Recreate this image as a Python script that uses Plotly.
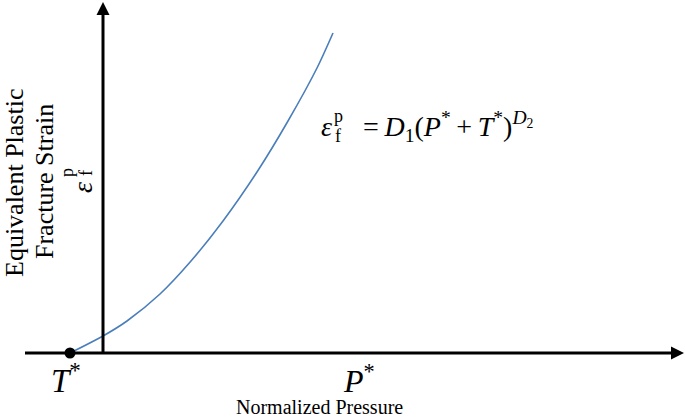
import plotly.graph_objects as go

# Schematic Johnson-Cook fracture strain curve (arbitrary units)
# x: normalized pressure (vertical axis at 0, T* point at negative side)
pressure = [-33, 0, 24, 57, 88, 120, 154, 185, 214, 230]
strain = [0, 17, 32, 59, 92, 132, 181, 232, 285, 320]

x_label = "Normalized Pressure"
y_label_lines = ["Equivalent Plastic", "Fracture Strain"]
t_label = "<i>T</i><sup>*</sup>"
p_label = "<i>P</i><sup>*</sup>"

FONT = "Liberation Serif"
X0, Y0 = 103, 353  # pixel position of origin (layout)


def dx(px):
    return px - X0


def dy(py):
    return Y0 - py


fig = go.Figure()

fig.add_trace(go.Scatter(
    x=pressure, y=strain, mode="lines",
    line=dict(color="#4a7ebb", width=1.6, shape="spline", smoothing=0.8),
    hoverinfo="skip", showlegend=False))
fig.add_trace(go.Scatter(
    x=pressure[:1], y=strain[:1], mode="markers", marker=dict(color="black", size=11),
    hoverinfo="skip", showlegend=False))

shapes = [
    # horizontal axis
    dict(type="line", xref="x", yref="y", x0=dx(25), x1=dx(672), y0=0, y1=0,
         line=dict(color="black", width=3)),
    # vertical axis
    dict(type="line", xref="x", yref="y", x0=0, x1=0, y0=0, y1=dy(14),
         line=dict(color="black", width=3)),
    # arrow heads
    dict(type="path", xref="x", yref="y", xsizemode="pixel", ysizemode="pixel",
         xanchor=dx(684), yanchor=0, path="M 0 0 L -13 6.5 L -13 -6.5 Z",
         fillcolor="black", line=dict(color="black", width=0)),
    dict(type="path", xref="x", yref="y", xsizemode="pixel", ysizemode="pixel",
         xanchor=0, yanchor=dy(2), path="M 0 0 L -6.5 -13 L 6.5 -13 Z",
         fillcolor="black", line=dict(color="black", width=0)),
]

ann = []


def add(text, px, py, size, angle=0, xanchor="center", yanchor="middle"):
    ann.append(dict(text=text, x=dx(px), y=dy(py), xref="x", yref="y", showarrow=False,
                    font=dict(family=FONT, size=size, color="black"), textangle=angle,
                    xanchor=xanchor, yanchor=yanchor))


add(t_label, 66, 378, 33)
add(p_label, 359, 379, 32)
add(x_label, 319, 407, 20)
add(y_label_lines[0], 14, 183, 26, angle=-90)
add(y_label_lines[1], 44, 182, 26, angle=-90)
# epsilon_f^p on y axis
add("<i>ε</i>", 82, 188, 28, angle=-90)
add("p", 67, 173, 18, angle=-90)
add("f", 86, 173, 18, angle=-90)

# equation
add("<i>ε</i>", 334, 126, 28, xanchor="right")
add("p", 338, 116, 18)
add("f", 338, 136, 18)
add("\u2002=\u2009<i>D</i><sub>1</sub>(<i>P</i><sup>*</sup>\u2009+\u2009<i>T</i><sup>*</sup>)"
    "<sup><i>D</i><sub>2</sub></sup>",
    347, 126, 28, xanchor="left")

fig.update_layout(
    width=685, height=419, margin=dict(l=0, r=0, t=0, b=0),
    paper_bgcolor="white", plot_bgcolor="white",
    xaxis=dict(range=[dx(0), dx(685)], visible=False, fixedrange=True),
    yaxis=dict(range=[dy(419), dy(0)], visible=False, fixedrange=True),
    shapes=shapes, annotations=ann, showlegend=False,
)

fig.write_html("out.html", config={"displayModeBar": False},
               post_script="document.body.style.margin='0';document.body.style.overflow='hidden';")
